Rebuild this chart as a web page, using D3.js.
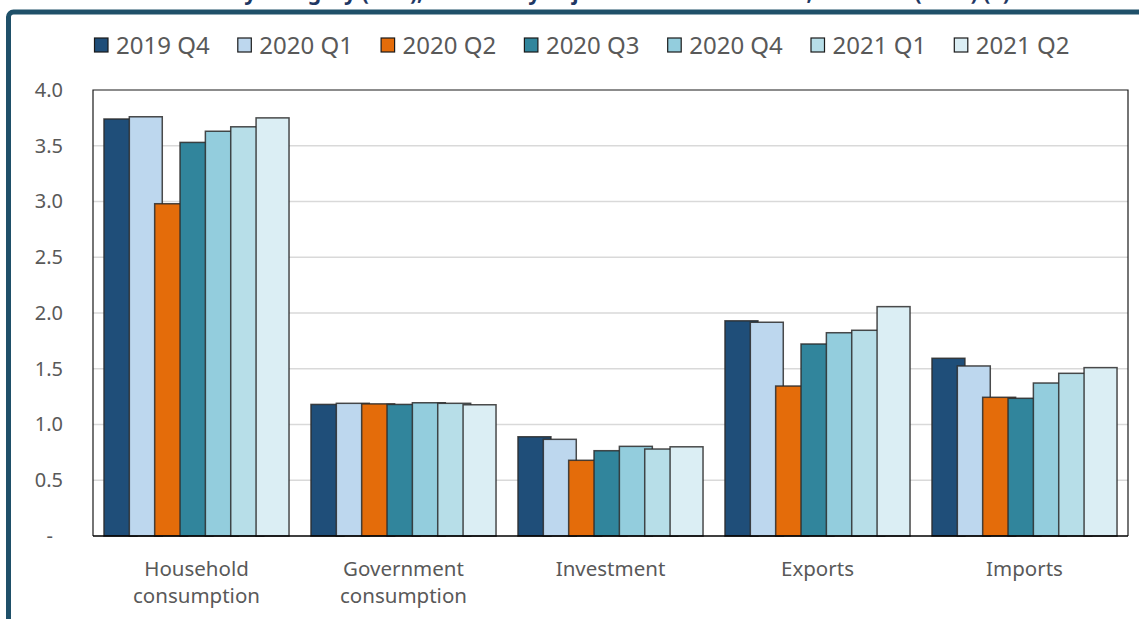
<!DOCTYPE html>
<html>
<head>
<meta charset="utf-8">
<script src="https://cdn.jsdelivr.net/npm/d3@7"></script>
<style>
  html, body { margin: 0; padding: 0; background: #ffffff; }
  svg { display: block; }
  text { font-family: "Noto Sans", "Open Sans", sans-serif; }
</style>
</head>
<body>
<svg id="chart" width="1139" height="619"></svg>
<script>
// GDP by expenditure component, R trillion
const categories = [["Household", "consumption"], ["Government", "consumption"], ["Investment"], ["Exports"], ["Imports"]];
const seriesNames = ["2019 Q4", "2020 Q1", "2020 Q2", "2020 Q3", "2020 Q4", "2021 Q1", "2021 Q2"];
const seriesColors = ["#1f4e79", "#bdd7ee", "#e46c0a", "#31859c", "#93cddd", "#b7dee8", "#dbeef4"];

// one array per quarter, values in category order
const q2019Q4 = [3.74, 1.18, 0.89, 1.93, 1.594];
const q2020Q1 = [3.76, 1.19, 0.867, 1.917, 1.525];
const q2020Q2 = [2.98, 1.185, 0.679, 1.345, 1.244];
const q2020Q3 = [3.53, 1.18, 0.765, 1.722, 1.235];
const q2020Q4 = [3.63, 1.195, 0.804, 1.823, 1.372];
const q2021Q1 = [3.67, 1.19, 0.78, 1.845, 1.459];
const q2021Q2 = [3.75, 1.177, 0.80, 2.057, 1.51];
const seriesValues = [q2019Q4, q2020Q1, q2020Q2, q2020Q3, q2020Q4, q2021Q1, q2021Q2];

const yTicks = [0, 0.5, 1.0, 1.5, 2.0, 2.5, 3.0, 3.5, 4.0];

const titleText = "Real GDP by category (real), seasonally adjusted and annualised, R trillion (2015) (1)";

const svg = d3.select("#chart");
const plot = { left: 93, right: 1128, top: 90, bottom: 536 };

// outer frame (top and left edges visible, rest runs off the page)
svg.append("rect")
  .attr("x", 8.5).attr("y", 12)
  .attr("width", 1300).attr("height", 800)
  .attr("rx", 5)
  .attr("fill", "none")
  .attr("stroke", "#1f5069")
  .attr("stroke-width", 5);

// title line above the frame; the page edge trims it to its descenders
svg.append("text")
  .attr("x", 130).attr("y", 0)
  .attr("font-size", 21)
  .attr("font-weight", "bold")
  .attr("fill", "#1f3864")
  .attr("textLength", 880)
  .attr("lengthAdjust", "spacingAndGlyphs")
  .text(titleText);

const x0 = d3.scaleBand()
  .domain(d3.range(categories.length))
  .range([plot.left, plot.right])
  .paddingInner(0).paddingOuter(0);

const bw = x0.bandwidth();
const groupWidth = bw * 0.894;
const overlap = 0.3;
const subStep = groupWidth / (seriesNames.length + overlap);
const barW = subStep * (1 + overlap);
const x1 = d3.scaleBand()
  .domain(d3.range(seriesNames.length))
  .range([0, subStep * seriesNames.length])
  .padding(0);
const groupOffset = (bw - groupWidth) / 2;

const y = d3.scaleLinear().domain([0, 4]).range([plot.bottom, plot.top]);

// gridlines
svg.append("g")
  .selectAll("line")
  .data(yTicks.filter(d => d > 0 && d < 4))
  .join("line")
  .attr("x1", plot.left).attr("x2", plot.right)
  .attr("y1", d => y(d)).attr("y2", d => y(d))
  .attr("stroke", "#d9d9d9")
  .attr("stroke-width", 1.5);

// plot area border
svg.append("path")
  .attr("d", `M${plot.left},${plot.bottom}V${plot.top}H${plot.right}V${plot.bottom}`)
  .attr("fill", "none")
  .attr("stroke", "#1a1a1a")
  .attr("stroke-width", 1.2);

// bars: categories in order, quarters drawn left to right so later ones sit on top
const groups = svg.append("g")
  .selectAll("g")
  .data(categories.map((c, i) => i))
  .join("g")
  .attr("transform", i => `translate(${x0(i) + groupOffset},0)`);

groups.selectAll("rect")
  .data(ci => seriesValues.map((vals, si) => ({ si, v: vals[ci] })))
  .join("rect")
  .attr("x", d => x1(d.si))
  .attr("y", d => y(d.v))
  .attr("width", barW)
  .attr("height", d => y(0) - y(d.v))
  .attr("fill", d => seriesColors[d.si])
  .attr("stroke", "#2b2b2b")
  .attr("stroke-opacity", 0.85)
  .attr("stroke-width", 1.5);

// category axis line
svg.append("line")
  .attr("x1", plot.left).attr("x2", plot.right)
  .attr("y1", plot.bottom).attr("y2", plot.bottom)
  .attr("stroke", "#000")
  .attr("stroke-width", 1.6);

// y axis labels
const yAxis = d3.axisLeft(y)
  .tickValues(yTicks)
  .tickSize(0)
  .tickPadding(30)
  .tickFormat(d => d === 0 ? "-" : d3.format(".1f")(d));
const yg = svg.append("g").attr("transform", `translate(${plot.left},0)`).call(yAxis);
yg.select(".domain").remove();
yg.selectAll("text")
  .attr("font-size", 20)
  .attr("font-family", "\"Noto Sans\", sans-serif")
  .attr("fill", "#595959")
  .attr("dx", d => d === 0 ? -10 : 0);

// x axis labels
const xl = svg.append("g")
  .selectAll("text")
  .data(categories.map((c, i) => ({ lines: c, i })))
  .join("text")
  .attr("text-anchor", "middle")
  .attr("font-size", 20.5)
  .attr("fill", "#595959");
xl.selectAll("tspan")
  .data(d => d.lines.map(l => ({ l, i: d.i })))
  .join("tspan")
  .attr("x", d => x0(d.i) + bw / 2)
  .attr("y", (d, k) => 575.5 + k * 27.5)
  .text(d => d.l);

// legend
const legend = svg.append("g")
  .selectAll("g")
  .data(seriesNames.map((n, i) => ({ n, i })))
  .join("g")
  .attr("transform", d => `translate(${94 + d.i * 143.3},0)`);
legend.append("rect")
  .attr("x", 0.5).attr("y", 38)
  .attr("width", 13.5).attr("height", 14)
  .attr("fill", d => seriesColors[d.i])
  .attr("stroke", "#1a1a1a")
  .attr("stroke-width", 1.2);
legend.append("text")
  .attr("x", 22).attr("y", 54)
  .attr("font-size", 24)
  .attr("fill", "#595959")
  .text(d => d.n);
</script>
</body>
</html>
